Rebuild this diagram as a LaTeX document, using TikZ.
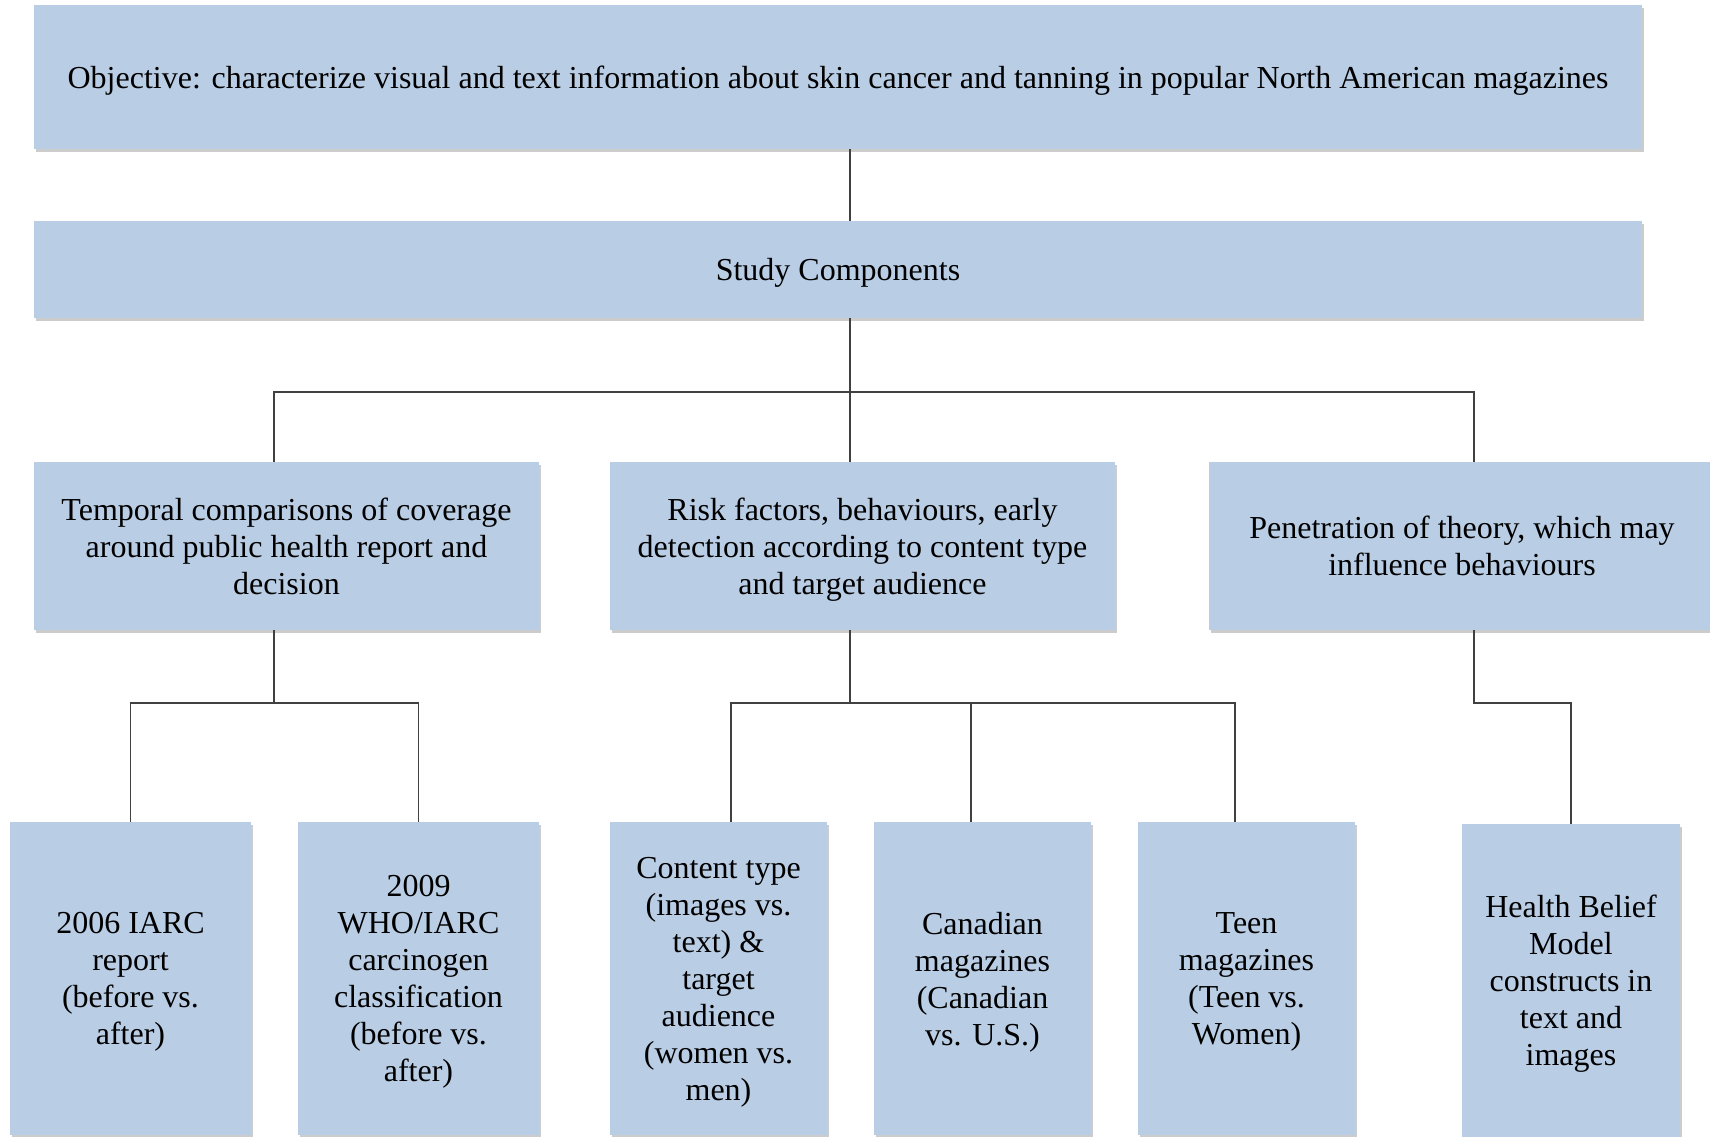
\documentclass[tikz,border=0pt]{standalone}
\usepackage{fontspec}
\setmainfont{Liberation Serif}
\usetikzlibrary{shadows}
\definecolor{boxblue}{HTML}{B9CDE5}
\definecolor{linegray}{HTML}{404040}

\begin{document}
\begin{tikzpicture}[x=1pt,y=-1pt,
  blk/.style={fill=boxblue,draw=none,align=center,inner sep=0pt,text depth=0pt,
    font=\fontsize{32}{37}\selectfont,
    drop shadow={shadow xshift=2pt,shadow yshift=-3pt,fill=black,opacity=0.2}},
  link/.style={draw=linegray,line width=1.4pt}]
\useasboundingbox (0,0) rectangle (1710,1137);

\node[blk,minimum width=1608,minimum height=144] (obj) at (838,77)
  {Objective: characterize visual and text information about skin cancer and tanning in popular North American magazines};
\node[blk,minimum width=1608,minimum height=97] (study) at (838,269.5) {Study Components};

\node[blk,minimum width=505,minimum height=168] (temporal) at (286.5,546)
  {Temporal comparisons of coverage\\around public health report and\\decision};
\node[blk,minimum width=505,minimum height=168] (risk) at (862.5,546)
  {Risk factors, behaviours, early\\detection according to content type\\and target audience};
\node[blk,minimum width=506,minimum height=168] (theory) at (1462,546)
  {Penetration of theory, which may\\influence behaviours};

\node[blk,minimum width=241,minimum height=313] (iarc) at (130.5,978.5)
  {2006 IARC\\report\\(before vs.\\after)};
\node[blk,minimum width=241,minimum height=313] (who) at (418.5,978.5)
  {2009\\WHO/IARC\\carcinogen\\classification\\(before vs.\\after)};
\node[blk,minimum width=217,minimum height=313] (content) at (718.5,978.5)
  {Content type\\(images vs.\\text) \&\\target\\audience\\(women vs.\\men)};
\node[blk,minimum width=217,minimum height=313] (canada) at (982.5,978.5)
  {Canadian\\magazines\\(Canadian\\vs. U.S.)};
\node[blk,minimum width=217,minimum height=313] (teen) at (1246.5,978.5)
  {Teen\\magazines\\(Teen vs.\\Women)};
\node[blk,minimum width=218,minimum height=313] (hbm) at (1571,980.5)
  {Health Belief\\Model\\constructs in\\text and\\images};

\coordinate (trunk) at (850,392);
\coordinate (busl) at (274,392);
\coordinate (busr) at (1474,392);
\coordinate (tj) at (274,703);
\coordinate (rj) at (850,703);
\coordinate (pj) at (1474,703);

\draw[link] (obj.south -| trunk) -- (study.north -| trunk);
\draw[link] (study.south -| trunk) -- (risk.north -| trunk);
\draw[link] (temporal.north -| busl) -- (busl) -- (busr) -- (theory.north -| busr);

\draw[link] (temporal.south -| tj) -- (tj);
\draw[link] (iarc.north) -- (iarc.north |- tj) -- (who.north |- tj) -- (who.north);

\draw[link] (risk.south -| rj) -- (rj);
\draw[link] ([xshift=12.5]content.north) |- (rj) -| ([xshift=-11.5]teen.north);
\draw[link] ([xshift=-11.5]canada.north) -- ([xshift=-11.5]canada.north |- rj);

\draw[link] (theory.south -| pj) -- (pj) -| (hbm.north);
\end{tikzpicture}
\end{document}
